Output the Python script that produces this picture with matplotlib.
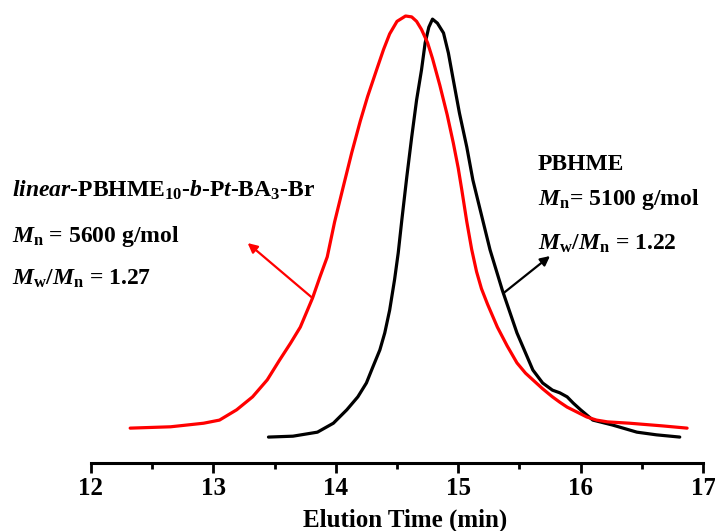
import numpy as np
import matplotlib.pyplot as plt

# GPC-Kurven (Zeit in min, Intensitaet normiert)
zeit_linear = [12.32, 12.65, 12.92, 13.05, 13.19, 13.32, 13.44, 13.54, 13.63, 13.71,
               13.81, 13.87, 13.93, 13.99, 14.06, 14.13, 14.20, 14.26, 14.34, 14.39,
               14.44, 14.50, 14.57, 14.62, 14.66, 14.70, 14.75, 14.79, 14.85, 14.91,
               14.96, 15.00, 15.03, 15.07, 15.11, 15.15, 15.19, 15.24, 15.32, 15.40,
               15.48, 15.55, 15.61, 15.69, 15.77, 15.83, 15.89, 15.97, 16.05, 16.13,
               16.22, 16.40, 16.67, 16.87]
sig_linear = [0.078, 0.081, 0.089, 0.096, 0.119, 0.148, 0.186, 0.230, 0.268, 0.304,
              0.369, 0.416, 0.461, 0.539, 0.617, 0.694, 0.765, 0.820, 0.885, 0.925,
              0.960, 0.988, 1.000, 0.998, 0.988, 0.970, 0.940, 0.905, 0.845, 0.779,
              0.716, 0.660, 0.610, 0.540, 0.478, 0.428, 0.390, 0.355, 0.304, 0.262,
              0.224, 0.201, 0.186, 0.166, 0.148, 0.136, 0.125, 0.114, 0.103, 0.096,
              0.092, 0.089, 0.083, 0.078]

zeit_pbhme = [13.45, 13.65, 13.85, 13.98, 14.09, 14.18, 14.25, 14.30, 14.36, 14.40,
              14.44, 14.48, 14.51, 14.54, 14.58, 14.62, 14.66, 14.70, 14.73, 14.76,
              14.79, 14.83, 14.88, 14.92, 14.96, 15.01, 15.07, 15.12, 15.18, 15.26,
              15.36, 15.48, 15.61, 15.69, 15.77, 15.83, 15.89, 15.94, 16.00, 16.10,
              16.26, 16.46, 16.62, 16.81]
sig_pbhme = [0.058, 0.060, 0.069, 0.089, 0.119, 0.148, 0.179, 0.213, 0.253, 0.291,
             0.342, 0.410, 0.470, 0.545, 0.640, 0.729, 0.812, 0.879, 0.940, 0.975,
             0.993, 0.984, 0.962, 0.917, 0.857, 0.783, 0.707, 0.633, 0.566, 0.477,
             0.387, 0.291, 0.208, 0.179, 0.163, 0.157, 0.148, 0.134, 0.119, 0.096,
             0.085, 0.069, 0.063, 0.058]

x_ticks = [12, 13, 14, 15, 16, 17]

plt.rcParams['font.family'] = ['Liberation Serif']
plt.rcParams['font.weight'] = 'bold'
plt.rcParams['mathtext.fontset'] = 'custom'
plt.rcParams['mathtext.rm'] = 'Liberation Serif:bold'
plt.rcParams['mathtext.it'] = 'Liberation Serif:bold:italic'
plt.rcParams['mathtext.bf'] = 'Liberation Serif:bold'

fig = plt.figure(figsize=(7.15, 5.31), dpi=100)
ax = fig.add_axes([91 / 715, 68 / 531, 612 / 715, 463 / 531])

ax.plot(zeit_pbhme, sig_pbhme, color='black', lw=2.3,
        solid_joinstyle='round', solid_capstyle='round')
ax.plot(zeit_linear, sig_linear, color='#ff0000', lw=2.3,
        solid_joinstyle='round', solid_capstyle='round')

ax.set_xlim(12, 17)
ax.set_ylim(0, 463 / 447)
ax.set_xticks(x_ticks)
ax.set_xticks(np.arange(12.5, 17, 1.0), minor=True)
ax.set_yticks([])
for s in ['left', 'right', 'top']:
    ax.spines[s].set_visible(False)
ax.spines['bottom'].set_linewidth(2.2)
ax.tick_params(axis='x', which='major', direction='out', length=7, width=2,
               labelsize=18, pad=3)
ax.tick_params(axis='x', which='minor', direction='out', length=4, width=2)
for lab in ax.get_xticklabels():
    lab.set_fontweight('bold')

fig.text(405 / 715, 1 - 527 / 531, 'Elution Time (min)', ha='center',
         va='baseline', fontsize=18, fontweight='bold')

# Beschriftung links (rot)
fig.text(12 / 715, 1 - 197 / 531,
         r'$linear$-PBHME$_{\mathrm{10}}$-$b$-P$t$-BA$_{\mathrm{3}}$-Br',
         fontsize=17, va='baseline')
fig.text(12 / 715, 1 - 242 / 531, r'$M_{\mathrm{n}}$ = 5600 g/mol',
         fontsize=17, va='baseline')
fig.text(12 / 715, 1 - 285 / 531, r'$M_{\mathrm{w}}/M_{\mathrm{n}}$ = 1.27',
         fontsize=17, va='baseline')

# Beschriftung rechts (schwarz)
fig.text(538 / 715, 1 - 170 / 531, 'PBHME', fontsize=17, va='baseline')
fig.text(538 / 715, 1 - 205 / 531, r'$M_{\mathrm{n}}$= 5100 g/mol',
         fontsize=17, va='baseline')
fig.text(538 / 715, 1 - 250 / 531, r'$M_{\mathrm{w}}/M_{\mathrm{n}}$ = 1.22',
         fontsize=17, va='baseline')

ax.annotate('', xy=(13.28, 0.492), xytext=(13.81, 0.369),
            arrowprops=dict(arrowstyle='-|>', color='#ff0000', lw=1.6,
                            mutation_scale=14, shrinkA=0, shrinkB=0))
ax.annotate('', xy=(15.75, 0.463), xytext=(15.37, 0.380),
            arrowprops=dict(arrowstyle='-|>', color='black', lw=1.6,
                            mutation_scale=14, shrinkA=0, shrinkB=0))

fig.savefig('out.png', dpi=100)
